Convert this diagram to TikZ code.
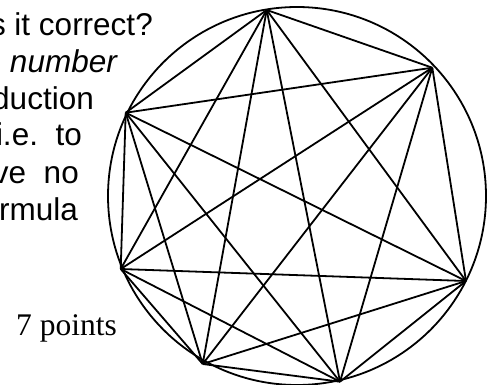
\documentclass[tikz,border=0pt]{standalone}
\usepackage{fontspec}
\setsansfont{Liberation Sans}
\newfontfamily\serifpts{Liberation Serif}
\begin{document}
\begin{tikzpicture}[x=1pt,y=-1pt,
  txt/.style={anchor=base east,inner sep=0pt,font=\sffamily\fontsize{31.5}{36}\selectfont},
  ptxt/.style={anchor=base west,inner sep=0pt,font=\serifpts\fontsize{31.5}{36}\selectfont},
  edge/.style={line width=1.8pt,line join=round}]
\useasboundingbox (0,0) rectangle (490,385);
\clip (0,0) rectangle (490,385);
% text
\node[txt] (l1) at (153,36) {s it correct?};
\node[txt] (l2) at (117,73) {\itshape number};
\node[txt] (l3) at (94,110) {duction};
\node[txt] (l4) at (82,146) {i.e.\ \ to};
\node[txt] (l5) at (79,183) {ve\ \ no};
\node[txt] (l6) at (78,220) {rmula};
\node[ptxt] (pts) at (16,335) {7 points};
% circle
\coordinate (c) at (297,196);
\draw[edge] (c) circle[radius=189];
% points
\coordinate (p1) at (266.7,10);
\coordinate (p2) at (432.3,67.7);
\coordinate (p3) at (466,281);
\coordinate (p4) at (340,381.7);
\coordinate (p5) at (202.7,364);
\coordinate (p6) at (120.7,269);
\coordinate (p7) at (125.7,112.7);
\foreach \i in {1,...,7}{
  \foreach \j in {1,...,7}{
    \ifnum\i<\j
      \draw[edge] (p\i) -- (p\j);
    \fi
  }
}
\end{tikzpicture}
\end{document}
